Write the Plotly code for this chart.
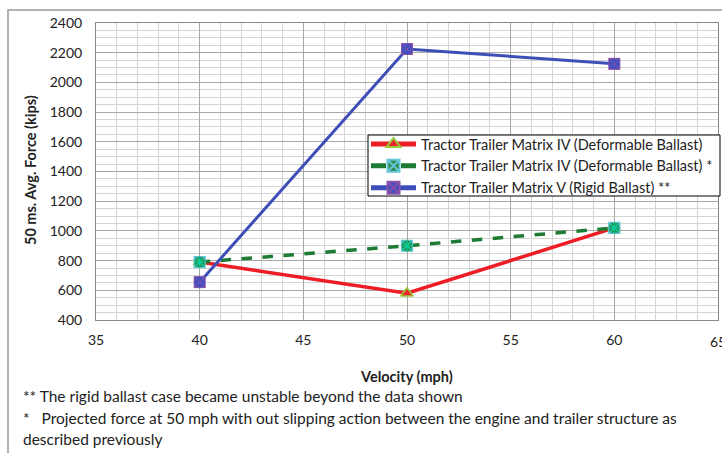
import plotly.graph_objects as go

# Velocity (mph) and 50 ms average force (kips) per configuration
velocity = [40, 50, 60]
matrix_iv_deformable = [790, 580, 1020]
matrix_iv_projected = [790, 900, 1020]
matrix_v_rigid = [655, 2225, 2125]

names = [
    "Tractor Trailer Matrix IV (Deformable Ballast)",
    "Tractor Trailer Matrix IV (Deformable Ballast) *",
    "Tractor Trailer Matrix V (Rigid Ballast) **",
]
x_ticks = [35, 40, 45, 50, 55, 60, 65]
y_ticks = [400, 600, 800, 1000, 1200, 1400, 1600, 1800, 2000, 2200, 2400]

FONT = "Lato"
W, H = 722, 453
L, R, T, B = 96, 4, 23, 133
pw, ph = W - L - R, H - T - B


def px(x):
    return (x - L) / pw


def py(y):
    return (H - B - y) / ph


fig = go.Figure()

fig.add_trace(go.Scatter(
    x=velocity, y=matrix_iv_deformable, name=names[0], mode="lines+markers",
    line=dict(color="#EE1C25", width=3.5),
    marker=dict(symbol="triangle-up", size=11, color="#E8262B",
                line=dict(color="#9BCB3C", width=1.5)),
))
fig.add_trace(go.Scatter(
    x=velocity, y=matrix_iv_projected, name=names[1], mode="lines+markers",
    line=dict(color="#1E7B34", width=3.5, dash="dash"),
    marker=dict(symbol="square-x", size=11, color="#2E8B4A",
                line=dict(color="#63C5D8", width=1.2)),
    legendgroup="proj",
))
fig.add_trace(go.Scatter(
    x=velocity, y=matrix_iv_projected, mode="markers", showlegend=False,
    marker=dict(symbol="asterisk-open", size=10,
                line=dict(color="#63C5D8", width=1.2)),
    legendgroup="proj", hoverinfo="skip",
))
fig.add_trace(go.Scatter(
    x=velocity, y=matrix_v_rigid, name=names[2], mode="lines+markers",
    line=dict(color="#3E4EB8", width=3),
    marker=dict(symbol="square-x", size=11, color="#4050C0",
                line=dict(color="#8A4FA8", width=1)),
))

fig.update_layout(
    width=W, height=H,
    margin=dict(l=L, r=R, t=T, b=B),
    paper_bgcolor="white", plot_bgcolor="white",
    font=dict(family=FONT, size=14, color="#222"),
    xaxis=dict(
        range=[35, 65], tickvals=x_ticks, ticks="outside", ticklen=7,
        tickcolor="rgba(0,0,0,0)",
        showgrid=True, gridcolor="#A8A8A8", gridwidth=1,
        minor=dict(dtick=1, showgrid=True, gridcolor="#D4D4D4", gridwidth=1),
        showline=True, linecolor="#888", linewidth=1, mirror=True,
        zeroline=False, tickfont=dict(size=14, family=FONT),
    ),
    yaxis=dict(
        range=[400, 2400], tickvals=y_ticks, ticks="outside", ticklen=10,
        tickcolor="rgba(0,0,0,0)",
        showgrid=True, gridcolor="#A8A8A8", gridwidth=1,
        minor=dict(dtick=50, showgrid=True, gridcolor="#D4D4D4", gridwidth=1),
        showline=True, linecolor="#888", linewidth=1, mirror=True,
        zeroline=False, tickfont=dict(size=14, family=FONT),
    ),
    legend=dict(
        x=px(366), y=py(128), xanchor="left", yanchor="top",
        bgcolor="rgba(0,0,0,0)", borderwidth=0,
        font=dict(size=14.5, family=FONT, color="#222"),
        tracegroupgap=0, itemsizing="constant", itemwidth=45,
    ),
    showlegend=True,
)

# Legend frame
fig.add_shape(type="rect", xref="paper", yref="paper",
              x0=px(368), y0=py(196), x1=px(720), y1=py(135),
              line=dict(color="black", width=1), fillcolor="white",
              layer="above")

# Outer chart frame
fig.add_shape(type="rect", xref="paper", yref="paper",
              x0=px(8), y0=py(470), x1=px(740), y1=py(10),
              line=dict(color="#999", width=1.5), fillcolor="rgba(0,0,0,0)",
              layer="below")

# Last x tick label sits on the figure edge
fig.add_annotation(text="65", xref="x", yref="paper", x=65, y=py(341),
                   xanchor="center", yanchor="middle",
                   showarrow=False, font=dict(size=14, family=FONT, color="#222"))

fig.add_annotation(text="<b>50 ms. Avg. Force (kips)</b>", textangle=-90,
                   xref="paper", yref="paper", x=px(30), y=py(170),
                   xanchor="center", yanchor="middle",
                   showarrow=False, font=dict(size=14.5, family=FONT, color="#222"))
fig.add_annotation(text="<b>Velocity (mph)</b>",
                   xref="paper", yref="paper", x=px(406), y=py(376),
                   xanchor="center", yanchor="middle",
                   showarrow=False, font=dict(size=14.5, family=FONT, color="#222"))

notes = [
    (396, "** The rigid ballast case became unstable beyond the data shown"),
    (418, "*   Projected force at 50 mph with out slipping action between the engine and trailer structure as"),
    (439, "described previously"),
]
for yy, t in notes:
    fig.add_annotation(text=t, xref="paper", yref="paper", x=px(21), y=py(yy),
                       xanchor="left", yanchor="middle", showarrow=False,
                       font=dict(size=15.5, family=FONT, color="#222"))

fig.write_html("out.html")
